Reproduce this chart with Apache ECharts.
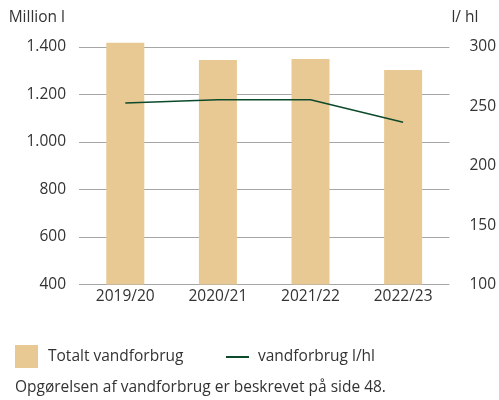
<!DOCTYPE html>
<html>
<head>
<meta charset="utf-8">
<script src="https://cdn.jsdelivr.net/npm/echarts@6/dist/echarts.min.js"></script>
<style>
  html, body { margin: 0; padding: 0; background: #fff; }
  #chart { width: 499px; height: 400px; }
</style>
</head>
<body>
<div id="chart"></div>
<script>
// data
var categories = ['2019/20', '2020/21', '2021/22', '2022/23'];
var totalUse = [1418, 1345, 1349, 1303];      // Million l
var usePerHl = [252.8, 255.6, 255.6, 236.6];  // l/hl

var textColor = '#333333';
var font = 'Open Sans';
var fs = 15.5;

var myChart = echarts.init(document.getElementById('chart'));
var option = {
  animation: false,
  textStyle: { fontFamily: font, color: textColor },
  // axis tops run a little past the last tick so the tallest bar is not cut
  grid: {
    left: 79,
    right: 49,
    top: 42.25,
    bottom: 115.5
  },
  legend: [
    {
      left: 15,
      top: 345,
      padding: 0,
      itemWidth: 23,
      itemHeight: 23,
      itemGap: 10,
      icon: 'rect',
      textStyle: { fontSize: fs, color: textColor, fontFamily: font, padding: [0, 0, 0, 5] },
      data: ['Totalt vandforbrug']
    },
    {
      left: 226,
      top: 349,
      padding: 0,
      itemWidth: 23,
      itemHeight: 2,
      itemGap: 10,
      icon: 'rect',
      textStyle: { fontSize: fs, color: textColor, fontFamily: font, padding: [0, 0, 0, 4] },
      data: ['vandforbrug l/hl']
    }
  ],
  graphic: [
    {
      type: 'text',
      left: 15,
      top: 380,
      style: {
        text: 'Opgørelsen af vandforbrug er beskrevet på side 48.',
        fontSize: fs,
        fontFamily: font,
        fill: textColor
      }
    }
  ],
  xAxis: {
    type: 'category',
    data: categories,
    axisTick: { show: false },
    axisLine: { show: false },
    axisLabel: { color: textColor, fontSize: fs, margin: 4, interval: 0 }
  },
  yAxis: [
    {
      type: 'value',
      min: 400,
      max: 1420,
      interval: 200,
      name: 'Million l',
      nameLocation: 'end',
      nameGap: 17,
      nameTextStyle: { color: textColor, fontSize: fs, align: 'right', padding: [0, 14, 0, 0] },
      axisLine: { show: false },
      axisTick: { show: false },
      axisLabel: {
        color: textColor,
        fontSize: fs,
        margin: 13,
        showMaxLabel: false,
        formatter: function (v) {
          return String(v).replace(/\B(?=(\d{3})+(?!\d))/g, '.');
        }
      },
      splitLine: { showMaxLine: false, lineStyle: { color: '#a6a6a6', width: 1 } }
    },
    {
      type: 'value',
      min: 100,
      max: 304,
      interval: 50,
      name: 'l/ hl',
      nameLocation: 'end',
      nameGap: 17,
      nameTextStyle: { color: textColor, fontSize: fs, align: 'left', padding: [0, 0, 0, 2] },
      axisLine: { show: false },
      axisTick: { show: false },
      axisLabel: { color: textColor, fontSize: fs, margin: 20, showMaxLabel: false },
      splitLine: { show: false }
    }
  ],
  series: [
    {
      name: 'Totalt vandforbrug',
      type: 'bar',
      yAxisIndex: 0,
      barWidth: 38,
      itemStyle: { color: '#e8c994' },
      data: totalUse
    },
    {
      name: 'vandforbrug l/hl',
      type: 'line',
      yAxisIndex: 1,
      symbol: 'none',
      lineStyle: { color: '#0d4a2b', width: 1.5 },
      itemStyle: { color: '#0d4a2b' },
      data: usePerHl
    }
  ]
};
myChart.setOption(option);
</script>
</body>
</html>
